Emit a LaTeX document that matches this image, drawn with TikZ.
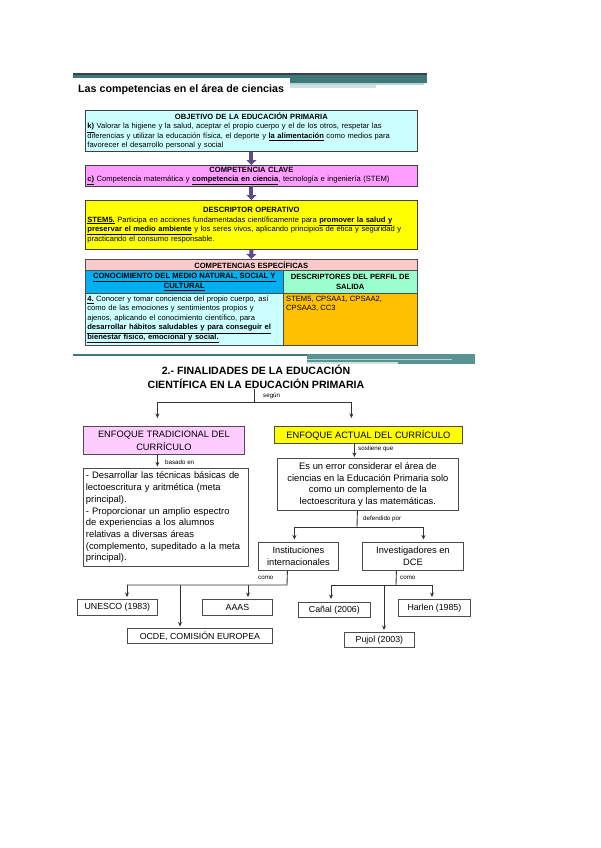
\documentclass[tikz,border=0pt]{standalone}
\usepackage{fontspec}
\setmainfont{Liberation Sans}
\usetikzlibrary{arrows.meta,calc}
\newcommand\myfs[2]{\fontsize{#1}{#2}\selectfont}
\definecolor{cyanl}{HTML}{CCFFFF}
\definecolor{magl}{HTML}{FF9CFF}
\definecolor{yel}{HTML}{FFFF00}
\definecolor{purp}{HTML}{5F4B8B}
\definecolor{pinkrow}{HTML}{FACACA}
\definecolor{bluec}{HTML}{00B0F0}
\definecolor{mint}{HTML}{99FFCC}
\definecolor{orangec}{HTML}{FFC000}
\definecolor{pinkl}{HTML}{FFCCFF}
\definecolor{hdark}{HTML}{3B3F55}
\definecolor{teala}{HTML}{407878}
\definecolor{tealb}{HTML}{5A9393}
\definecolor{teallight}{HTML}{B5D5D5}
\definecolor{tealpale}{HTML}{CFE3E3}
\begin{document}
\begin{tikzpicture}[x=1pt,y=-1pt,
  topbox/.style={draw=black!75, line width=0.8pt, rectangle, anchor=north west,
     minimum width=332pt, text width=328pt, inner xsep=2pt, inner ysep=1pt,
     align=left, font=\myfs{7.6}{9.5}},
  cell/.style={draw=black!70, line width=0.6pt, rectangle, anchor=north west, inner sep=2pt},
  bigarrow/.style={draw=purp, line width=4pt, -{Triangle[width=10pt,length=5pt]}},
  conn/.style={draw=black!80, line width=0.9pt},
  arr/.style={conn, -{Stealth[length=4.5pt,width=4pt]}},
  lbl/.style={font=\myfs{6.2}{7}, inner sep=0pt, anchor=west},
  bbox/.style={draw=black!70, line width=0.8pt, rectangle, anchor=north west, fill=white,
     inner sep=2pt, align=center, font=\myfs{9.3}{12}},
  sbox/.style={bbox, font=\myfs{8.8}{10}}]
\useasboundingbox[fill=white] (0,0) rectangle (600,848);

% ---------- top header ----------
\fill[hdark] (73,73) rectangle (427,75);
\fill[teala] (73,75) rectangle (427,78);
\fill[teala] (290,75) rectangle (427,83);
\fill[teallight] (290,83) rectangle (424,85);
\fill[tealpale] (290,85) rectangle (376,88);
\node[anchor=west, inner sep=0pt, font=\bfseries\myfs{10.7}{12}] (title1) at (78,89.5) {Las competencias en el área de ciencias};

% ---------- top boxes ----------
\node[topbox, fill=cyanl, minimum height=41pt, inner ysep=1.5pt] (obj) at (85,110)
 {{\bfseries\hfill OBJETIVO DE LA EDUCACIÓN PRIMARIA\hfill\null}\\
  \underline{\textbf{k)}} Valorar la higiene y la salud, aceptar el propio cuerpo y el de los otros, respetar las\\
  diferencias y utilizar la educación física, el deporte y \underline{\textbf{la alimentación}} como medios para\\
  favorecer el desarrollo personal y social};
\node[topbox, fill=magl, minimum height=21pt, inner ysep=1.5pt, font=\myfs{7.6}{9}] (clave) at (85,165)
 {{\bfseries\hfill COMPETENCIA CLAVE\hfill\null}\\
  \underline{\textbf{c)}} Competencia matemática y \underline{\textbf{competencia en ciencia}}, tecnología e ingeniería (STEM)};
\node[topbox, fill=yel, minimum height=49pt] (desc) at (85,200)
 {{\bfseries\hfill DESCRIPTOR OPERATIVO\hfill\null}\\
  \underline{\textbf{STEM5.}} Participa en acciones fundamentadas científicamente para \underline{\textbf{promover la salud y}}\\
  \underline{\textbf{preservar el medio ambiente}} y los seres vivos, aplicando principios de ética y seguridad y\\
  practicando el consumo responsable.\\[4pt]};

% ---------- table ----------
\node[cell, fill=pinkrow, minimum width=332pt, minimum height=11pt, font=\bfseries\myfs{7.6}{8}] (ce) at (85,259) {COMPETENCIAS ESPECÍFICAS};
\node[cell, fill=bluec, minimum width=198pt, minimum height=23pt, align=center, font=\bfseries\myfs{7.6}{9.8}] (cm) at (85,270)
 {\underline{CONOCIMIENTO DEL MEDIO NATURAL, SOCIAL Y}\\\underline{CULTURAL}};
\node[cell, fill=mint, minimum width=134pt, minimum height=23pt, align=center, font=\bfseries\myfs{7.6}{9.8}] (dp) at (283,270)
 {DESCRIPTORES DEL PERFIL DE\\SALIDA};
\node[cell, fill=cyanl, minimum width=198pt, minimum height=52pt, text width=194pt, inner xsep=2pt, align=left, font=\myfs{7.6}{9.4}] (c4) at (85,293)
 {\underline{\textbf{4.}} Conocer y tomar conciencia del propio cuerpo, así\\
  como de las emociones y sentimientos propios y\\
  ajenos, aplicando el conocimiento científico, para\\
  \underline{\textbf{desarrollar hábitos saludables y para conseguir el}}\\
  \underline{\textbf{bienestar físico, emocional y social.}}};
\node[cell, fill=orangec, minimum width=134pt, minimum height=52pt,
  label={[anchor=north west, inner sep=3pt, align=left, font=\myfs{7.6}{9.4}]north west:{STEM5, CPSAA1, CPSAA2,\\CPSAA3, CC3}}] (st) at (283,293) {};

% ---------- purple arrows ----------
\draw[bigarrow] (obj.south) -- (clave.north);
\draw[bigarrow] (clave.south) -- (desc.north);
\draw[bigarrow] (desc.south) -- (ce.north);

% ---------- bottom header ----------
\fill[teala] (73,354) rectangle (475,356);
\fill[tealb] (307,354) rectangle (475,364);
\fill[teallight] (307,358.5) rectangle (452,360);
\fill[tealpale] (307,362) rectangle (398,364);
\node[align=center, inner sep=0pt, font=\bfseries\myfs{10.6}{14}] (title2) at (256,377) {2.- FINALIDADES DE LA EDUCACIÓN\\CIENTÍFICA EN LA EDUCACIÓN PRIMARIA};

% ---------- bottom boxes ----------
\node[bbox, fill=pinkl, minimum width=161pt, minimum height=28pt, font=\myfs{9.3}{13}] (trad) at (83,426) {ENFOQUE TRADICIONAL DEL\\CURRÍCULO};
\node[bbox, fill=yel, minimum width=188pt, minimum height=17pt] (actual) at (274,426) {ENFOQUE ACTUAL DEL CURRÍCULO};
\node[bbox, minimum width=165pt, minimum height=98pt, text width=160pt, align=left, font=\myfs{9.4}{11.7}] (tradtext) at (83,468)
 {- Desarrollar las técnicas básicas de\\
  lectoescritura y aritmética (meta\\
  principal).\\
  - Proporcionar un amplio espectro\\
  de experiencias a los alumnos\\
  relativas a diversas áreas\\
  (complemento, supeditado a la meta\\
  principal).};
\node[bbox, minimum width=181pt, minimum height=52pt, font=\myfs{9.4}{11.7}] (error) at (277,458)
 {Es un error considerar el área de\\ciencias en la Educación Primaria solo\\como un complemento de la\\lectoescritura y las matemáticas.};
\node[bbox, minimum width=80pt, minimum height=28pt] (inst) at (258,542) {Instituciones\\internacionales};
\node[bbox, minimum width=101pt, minimum height=28pt] (invest) at (362,542) {Investigadores en\\DCE};
\node[sbox, minimum width=80pt, minimum height=16pt] (unesco) at (77,599) {UNESCO (1983)};
\node[sbox, minimum width=70pt, minimum height=16pt] (aaas) at (202,599) {AAAS};
\node[sbox, minimum width=145pt, minimum height=15pt] (ocde) at (127,628) {OCDE, COMISIÓN EUROPEA};
\node[sbox, minimum width=72pt, minimum height=15pt] (canal) at (298,602) {Cañal (2006)};
\node[sbox, minimum width=72pt, minimum height=17pt] (harlen) at (398,599) {Harlen (1985)};
\node[sbox, minimum width=70pt, minimum height=15pt] (pujol) at (344,632) {Pujol (2003)};

% ---------- connectors ----------
\coordinate (s1) at (254,402);
\coordinate (t1) at ([xshift=-6.5pt]trad.north);
\coordinate (a1) at ([xshift=-17pt]actual.north);
\draw[conn] (title2.south -| s1) -- (s1);
\draw[arr, shorten >=8pt] (s1) -| (t1);
\draw[arr, shorten >=8pt] (s1) -| (a1);
\node[lbl] (lsegun) at (263,396) {según};

\coordinate (b1) at ([xshift=-6.5pt]trad.south);
\draw[arr, shorten >=1.5pt] (b1) -- (b1 |- tradtext.north);
\node[lbl] (lbasado) at (165,462) {basado en};

\coordinate (x1) at ([xshift=-14pt]actual.south);
\draw[arr, shorten >=1pt] (x1) -- (x1 |- error.north);
\node[lbl] (lsost) at (358,449) {sostiene que};

\coordinate (d0) at ([xshift=-10.5pt]error.south);
\coordinate (d1) at (357,527);
\coordinate (i1) at ([xshift=-4pt]inst.north);
\coordinate (v1) at ([xshift=10.5pt]invest.north);
\draw[conn] (d0) -- (d1);
\draw[arr, shorten >=2.5pt] (d1) -| (i1);
\draw[arr, shorten >=2.5pt] (d1) -| (v1);
\node[lbl] (ldef) at (363,519) {defendido por};

\coordinate (l0) at ([xshift=-11pt]inst.south);
\coordinate (l1) at (287,585);
\coordinate (l2) at (127,585);
\coordinate (l3) at (180,585);
\coordinate (l4) at (248,585);
\draw[conn] (l0) -- (l1) -- (l2);
\draw[arr, shorten >=2pt] (l2) -- (l2 |- unesco.north);
\draw[arr, shorten >=1.5pt] (l3) -- (l3 |- ocde.north);
\draw[arr, shorten >=2pt] (l4) -- (l4 |- aaas.north);
\node[lbl] (lcomo1) at (258,578) {como};

\coordinate (r0) at ([xshift=-16.5pt]invest.south);
\coordinate (r1) at (396,585);
\coordinate (r2) at (331,585);
\coordinate (r3) at (432,585);
\coordinate (r4) at (384,585);
\draw[conn] (r0) -- (r1);
\draw[conn] (r2) -- (r3);
\draw[arr, shorten >=3pt] (r2) -- (r2 |- canal.north);
\draw[arr, shorten >=2pt] (r3) -- (r3 |- harlen.north);
\draw[arr, shorten >=2pt] (r4) -- (r4 |- pujol.north);
\node[lbl] (lcomo2) at (400,578) {como};
\end{tikzpicture}
\end{document}
